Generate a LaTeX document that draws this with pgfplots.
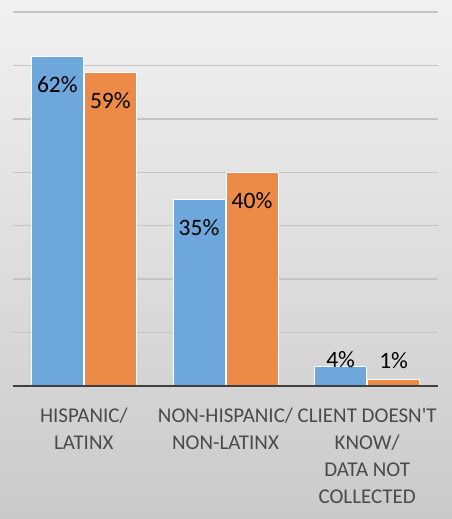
\documentclass[border=0pt]{standalone}
\usepackage{pgfplots}
\pgfplotsset{compat=1.18}
\usepackage{fontspec}
\setmainfont{Carlito}
\definecolor{barblue}{HTML}{6DA7DB}
\definecolor{barorange}{HTML}{EC8A48}
\definecolor{gridgray}{HTML}{C4C4C4}
\definecolor{labgray}{HTML}{4A4A4A}
\begin{document}
\begin{tikzpicture}
\useasboundingbox (0,0) rectangle (452pt,519pt);
\shade[top color={rgb,255:red,241;green,241;blue,241}, bottom color={rgb,255:red,202;green,202;blue,202}] (0,0) rectangle (452pt,519pt);
\begin{axis}[
  at={(13pt,133pt)}, anchor=south west,
  scale only axis, width=425pt, height=374pt,
  xmin=-0.5, xmax=2.5, ymin=0, ymax=70,
  ybar=1pt, bar width=52pt,
  axis line style={draw=none},
  ymajorgrids, ytick={10,20,...,70}, yticklabels={},
  grid style={draw=gridgray, line width=1.3pt},
  major tick length=0pt,
  xtick={0,1,2},
  xticklabels={HISPANIC/\\LATINX, NON-HISPANIC/\\NON-LATINX, CLIENT DOESN\textquotesingle T\\KNOW/\\DATA NOT\\COLLECTED},
  xticklabel style={align=center, font=\fontsize{21}{27}\selectfont, text=labgray, inner sep=0pt, anchor=north, yshift=-22pt},
  /pgf/number format/assume math mode=true,
  nodes near coords={\pgfmathprintnumber[fixed,precision=0]{\pgfplotspointmeta}\%},
  every node near coord/.append style={font=\fontsize{23.5}{28}\selectfont, text=black, inner sep=0pt},
  coordinate style/.condition={y>=10}{anchor=base, yshift=-36pt},
  coordinate style/.condition={y<10 && y>2}{anchor=base, yshift=-1pt},
  coordinate style/.condition={y<=2}{anchor=base, yshift=11pt},
  clip=false,
]
\addplot[fill=barblue, draw=white, line width=0.8pt] coordinates {(0,61.6) (1,34.9) (2,3.6)};
\addplot[fill=barorange, draw=white, line width=0.8pt] coordinates {(0,58.7) (1,39.9) (2,1.2)};
\draw[draw=black!75, line width=2.6pt] (axis cs:-0.5,0) -- (axis cs:2.5,0);
\end{axis}
\end{tikzpicture}
\end{document}
